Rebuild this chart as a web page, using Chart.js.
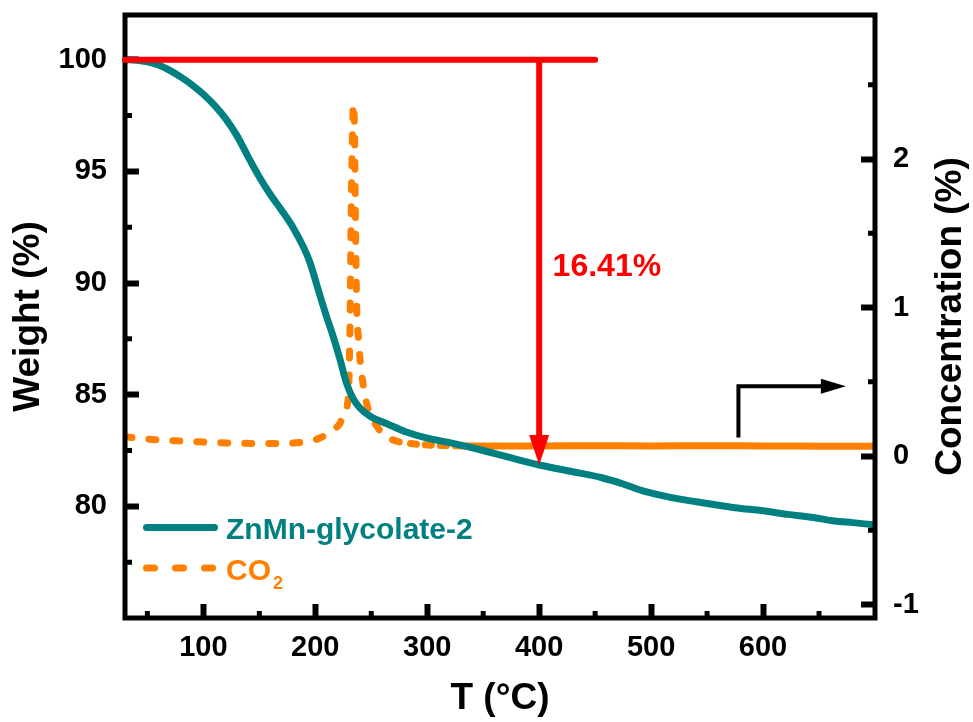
<!DOCTYPE html>
<html>
<head>
<meta charset="utf-8">
<script src="https://cdn.jsdelivr.net/npm/chart.js@4.4.1/dist/chart.umd.min.js"></script>
<style>
  html, body { margin: 0; padding: 0; background: #ffffff; }
  #wrap { width: 973px; height: 722px; position: relative; }
</style>
</head>
<body>
<div id="wrap"><canvas id="tga"></canvas></div>
<script>
// TGA curve of ZnMn-glycolate-2: temperature (°C) and residual weight (%)
const tgaTemp = [30, 40, 50, 60, 70, 80, 90, 100, 110, 120, 130, 140, 150, 160, 170, 180, 190, 195, 200, 205,
  210, 216, 222, 228, 234, 240, 250, 264, 280, 300, 320, 350, 380, 400, 430, 456, 475, 492, 510, 527,
  550, 575, 600, 622, 645, 664, 680, 700];
const tgaWeight = [100.0, 99.97, 99.9, 99.76, 99.52, 99.22, 98.87, 98.45, 97.95, 97.35, 96.6, 95.65, 94.75, 93.95, 93.25, 92.5, 91.55, 90.95, 90.15, 89.3,
  88.5, 87.6, 86.6, 85.5, 84.8, 84.4, 84.0, 83.7, 83.35, 83.05, 82.85, 82.5, 82.1, 81.85, 81.55, 81.28, 81.0, 80.7, 80.48, 80.31,
  80.13, 79.94, 79.8, 79.64, 79.5, 79.34, 79.27, 79.17];

// CO2 released during heating: temperature (°C) and concentration (%)
const co2Temp = [30, 50, 75, 100, 125, 150, 175, 190, 200, 210, 216, 222, 226, 229.5, 231, 232, 233, 234, 235, 236,
  237, 238.5, 240, 243, 246, 250, 255, 262, 273, 285, 300, 325, 350, 400, 450, 500, 550, 600, 650, 700];
const co2Conc = [0.13, 0.115, 0.103, 0.095, 0.088, 0.085, 0.087, 0.095, 0.11, 0.145, 0.18, 0.22, 0.3, 0.4, 0.9, 1.6, 2.1, 2.37, 2.2, 1.5,
  1.0, 0.8, 0.65, 0.47, 0.35, 0.27, 0.2, 0.14, 0.1, 0.085, 0.075, 0.07, 0.068, 0.068, 0.07, 0.068, 0.07, 0.068, 0.067, 0.066];

// Axis ticks
const tempTicks = [100, 200, 300, 400, 500, 600];
const tempMinor = [50, 150, 250, 350, 450, 550, 650];
const weightTicks = [80, 85, 90, 95, 100];
const weightMinor = [77.5, 82.5, 87.5, 92.5, 97.5];
const concTicks = [-1, 0, 1, 2];
const concMinor = [-0.5, 0.5, 1.5, 2.5];

// Weight-loss annotation (red) and axis pointer (black), in data units
const lossText = '16.41%';
const lossFrom = { t0: 30, t1: 450, w: 100 };
const lossAtT = 400;
const lossLabelAt = { t: 412, w: 90.3 };
const pointer = { t: 578, c0: 0.126, c1: 0.471, tEnd: 674 };

const TEAL = '#008080';
const ORANGE = '#ff8000';
const RED = '#ff0000';
const FONT = "'Liberation Sans', Arial, Helvetica, sans-serif";

const tickFont = { family: FONT, size: 29, weight: 'bold' };
const titleFont = { family: FONT, size: 37, weight: 'bold', lineHeight: 1 };

// keep the plot box exactly where the axis sizes put it
function fixBox(size) {
  return s => {
    if (s.isHorizontal()) s.height = size; else s.width = size;
    s.paddingTop = 0; s.paddingBottom = 0; s.paddingLeft = 0; s.paddingRight = 0;
  };
}

const decor = {
  id: 'decor',
  afterDraw(chart) {
    const { ctx, chartArea: a, scales } = chart;
    const sx = scales.x, sy = scales.y, sy2 = scales.y2;
    ctx.save();

    // plot frame
    ctx.strokeStyle = '#000';
    ctx.lineWidth = 5;
    ctx.strokeRect(a.left, a.top, a.right - a.left, a.bottom - a.top);

    // minor ticks, pointing inwards
    ctx.beginPath();
    tempMinor.forEach(v => { const p = sx.getPixelForValue(v); ctx.moveTo(p, a.bottom); ctx.lineTo(p, a.bottom - 7); });
    weightMinor.forEach(v => { const p = sy.getPixelForValue(v); ctx.moveTo(a.left, p); ctx.lineTo(a.left + 7, p); });
    concMinor.forEach(v => { const p = sy2.getPixelForValue(v); ctx.moveTo(a.right, p); ctx.lineTo(a.right - 7, p); });
    ctx.stroke();

    // right axis title, reading bottom to top
    ctx.save();
    ctx.translate(chart.width - 22, (a.top + a.bottom) / 2);
    ctx.rotate(-Math.PI / 2);
    ctx.fillStyle = '#000';
    ctx.font = `bold 37px ${FONT}`;
    ctx.textAlign = 'center';
    ctx.textBaseline = 'middle';
    ctx.fillText('Concentration (%)', 0, 0);
    ctx.restore();

    // weight-loss marker: level line at 100 % and arrow down to the curve at 400 °C
    const yTop = sy.getPixelForValue(lossFrom.w);
    ctx.strokeStyle = RED;
    ctx.fillStyle = RED;
    ctx.lineWidth = 6;
    ctx.lineCap = 'round';
    ctx.beginPath();
    ctx.moveTo(sx.getPixelForValue(lossFrom.t0), yTop);
    ctx.lineTo(sx.getPixelForValue(lossFrom.t1), yTop);
    ctx.stroke();

    const wEnd = tgaWeight[tgaTemp.indexOf(lossAtT)];
    const xa = sx.getPixelForValue(lossAtT);
    const ya = sy.getPixelForValue(wEnd);
    ctx.lineCap = 'butt';
    ctx.beginPath();
    ctx.moveTo(xa, yTop);
    ctx.lineTo(xa, ya - 26);
    ctx.stroke();
    ctx.beginPath();
    ctx.moveTo(xa - 10, ya - 30);
    ctx.lineTo(xa + 10, ya - 30);
    ctx.lineTo(xa, ya);
    ctx.closePath();
    ctx.fill();

    ctx.font = `bold 32px ${FONT}`;
    ctx.textAlign = 'left';
    ctx.textBaseline = 'alphabetic';
    ctx.fillText(lossText, sx.getPixelForValue(lossLabelAt.t), sy.getPixelForValue(lossLabelAt.w));

    // pointer towards the concentration axis
    const px = sx.getPixelForValue(pointer.t);
    const py0 = sy2.getPixelForValue(pointer.c0);
    const py1 = sy2.getPixelForValue(pointer.c1);
    const pxEnd = sx.getPixelForValue(pointer.tEnd);
    ctx.strokeStyle = '#000';
    ctx.fillStyle = '#000';
    ctx.lineWidth = 4;
    ctx.lineJoin = 'miter';
    ctx.beginPath();
    ctx.moveTo(px, py0);
    ctx.lineTo(px, py1);
    ctx.lineTo(pxEnd - 22, py1);
    ctx.stroke();
    ctx.beginPath();
    ctx.moveTo(pxEnd - 25, py1 - 7.5);
    ctx.lineTo(pxEnd, py1);
    ctx.lineTo(pxEnd - 25, py1 + 7.5);
    ctx.closePath();
    ctx.fill();

    // legend
    const ds = chart.data.datasets;
    const lx0 = a.left + 21.5, lx1 = a.left + 89.5, tx = a.left + 101;
    ctx.lineCap = 'round';
    ctx.lineWidth = 7;
    ctx.strokeStyle = ds[0].borderColor;
    ctx.beginPath();
    ctx.moveTo(lx0, 527.5);
    ctx.lineTo(lx1, 527.5);
    ctx.stroke();
    ctx.strokeStyle = ds[1].borderColor;
    ctx.setLineDash([8, 21]);
    ctx.beginPath();
    ctx.moveTo(lx0, 568);
    ctx.lineTo(lx1, 568);
    ctx.stroke();
    ctx.setLineDash([]);

    ctx.font = `bold 30px ${FONT}`;
    ctx.fillStyle = ds[0].borderColor;
    ctx.fillText(ds[0].label, tx, 538.5);
    ctx.fillStyle = ds[1].borderColor;
    const base = ds[1].label.replace('₂', '');
    ctx.fillText(base, tx, 579.5);
    const w = ctx.measureText(base).width;
    ctx.font = `bold 18px ${FONT}`;
    ctx.fillText('2', tx + w + 2, 588.5);

    ctx.restore();
  }
};

const axisGrid = { drawOnChartArea: false, drawTicks: true, tickLength: -14, tickWidth: 6, tickColor: '#000' };

new Chart(document.getElementById('tga'), {
  type: 'line',
  data: {
    datasets: [
      {
        label: 'ZnMn-glycolate-2',
        data: tgaTemp.map((t, i) => ({ x: t, y: tgaWeight[i] })),
        yAxisID: 'y',
        borderColor: TEAL,
        borderWidth: 7,
        pointRadius: 0,
        cubicInterpolationMode: 'monotone',
        borderCapStyle: 'round',
        borderJoinStyle: 'round',
        fill: false
      },
      {
        label: 'CO₂',
        data: co2Temp.map((t, i) => ({ x: t, y: co2Conc[i] })),
        yAxisID: 'y2',
        borderColor: ORANGE,
        borderWidth: 7,
        pointRadius: 0,
        cubicInterpolationMode: 'monotone',
        borderCapStyle: 'round',
        borderJoinStyle: 'round',
        borderDash: [7, 17],
        segment: { borderDash: c => (c.p0.parsed.x >= 320 ? [] : (c.p0.parsed.x >= 285 ? [6, 9] : undefined)) },
        fill: false
      }
    ]
  },
  options: {
    responsive: true,
    maintainAspectRatio: false,
    animation: false,
    layout: { padding: { top: 15, left: 0, right: 0, bottom: 0 } },
    plugins: { legend: { display: false }, tooltip: { enabled: false } },
    scales: {
      x: {
        type: 'linear',
        position: 'bottom',
        min: 30,
        max: 700,
        afterBuildTicks: s => { s.ticks = tempTicks.map(v => ({ value: v })); },
        afterFit: fixBox(104),
        grid: axisGrid,
        border: { display: false },
        ticks: { color: '#000', font: tickFont, padding: 27, maxRotation: 0, autoSkip: false },
        title: { display: true, text: 'T (°C)', color: '#000', font: titleFont, padding: { top: 0, bottom: 5 } }
      },
      y: {
        type: 'linear',
        position: 'left',
        min: 75,
        max: 102,
        afterBuildTicks: s => { s.ticks = weightTicks.map(v => ({ value: v })); },
        afterFit: fixBox(125),
        grid: axisGrid,
        border: { display: false },
        ticks: { color: '#000', font: tickFont, padding: 32, autoSkip: false },
        title: { display: true, text: 'Weight (%)', color: '#000', font: titleFont, padding: { top: 10.5, bottom: 0 } }
      },
      y2: {
        type: 'linear',
        position: 'right',
        min: -1.09,
        max: 2.97,
        afterBuildTicks: s => { s.ticks = concTicks.map(v => ({ value: v })); },
        afterFit: fixBox(98),
        grid: axisGrid,
        border: { display: false },
        ticks: { color: '#000', font: tickFont, padding: 32, autoSkip: false },
        title: { display: false }
      }
    }
  },
  plugins: [decor]
});
</script>
</body>
</html>
